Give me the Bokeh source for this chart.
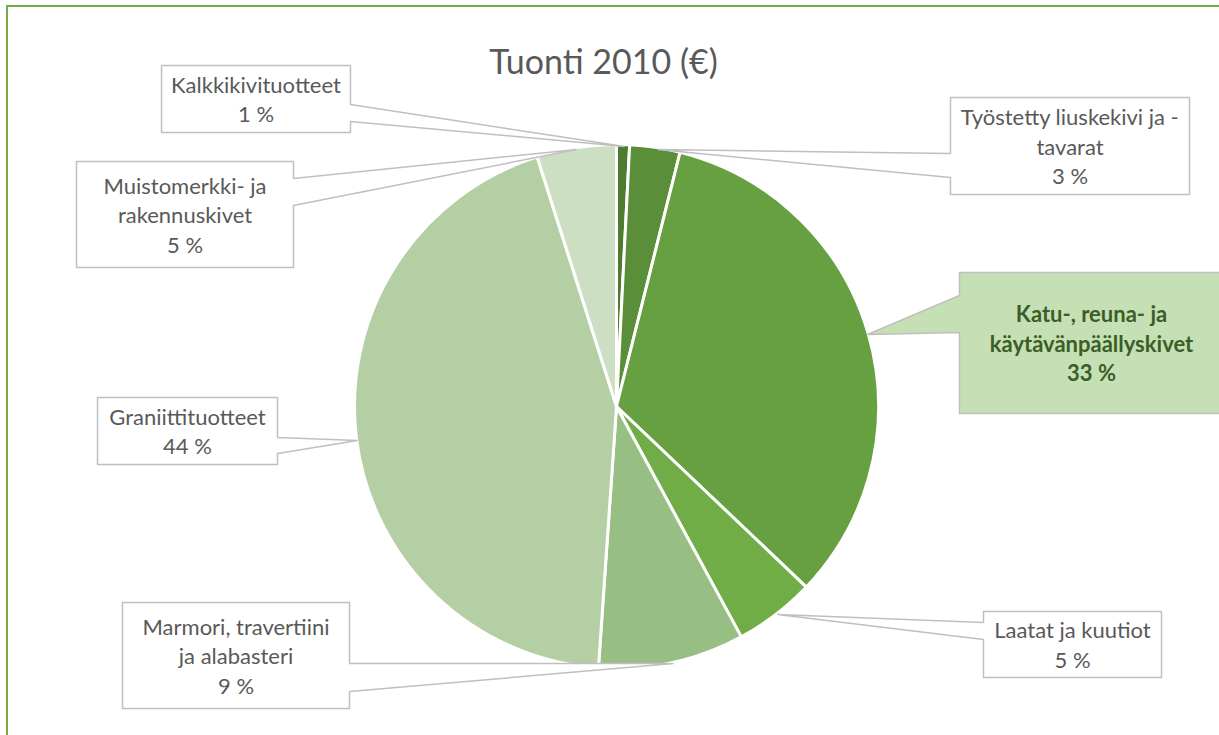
import math
from bokeh.plotting import figure
from bokeh.models import Range1d, ColumnDataSource
from bokeh.embed import file_html
from bokeh.resources import INLINE
from bokeh.core.properties import value

# ---------------- data ----------------
title = "Tuonti 2010 (€)"
categories = [
    "Kalkkikivituotteet",
    "Työstetty liuskekivi ja -tavarat",
    "Katu-, reuna- ja käytävänpäällyskivet",
    "Laatat ja kuutiot",
    "Marmori, travertiini ja alabasteri",
    "Graniittituotteet",
    "Muistomerkki- ja rakennuskivet",
]
label_lines = [
    ["Kalkkikivituotteet"],
    ["Työstetty liuskekivi ja -", "tavarat"],
    ["Katu-, reuna- ja", "käytävänpäällyskivet"],
    ["Laatat ja kuutiot"],
    ["Marmori, travertiini", "ja alabasteri"],
    ["Graniittituotteet"],
    ["Muistomerkki- ja", "rakennuskivet"],
]
shares = [0.8, 3.1, 33.2, 5.0, 9.0, 44.0, 4.9]
colors = ["#4f7b30", "#5a8e38", "#67a040", "#70ad47", "#98bf83", "#b5cfa5", "#cddfc3"]

# ---------------- layout (screen pixels) ----------------
W, H = 1219, 735
PAGE_H = 735
CX, CY, R = 616, 406, 262

# box: (left, top, right, bottom), side of pointer, base y1, base y2, tip
callouts = [
    dict(box=(161, 65, 350, 132), side="right", b=(104, 121), tip=(624, 146)),
    dict(box=(950, 97, 1189, 194), side="left", b=(153, 177), tip=(657, 149)),
    dict(box=(959, 272, 1223, 413), side="left", b=(295, 332), tip=(867, 334)),
    dict(box=(983, 611, 1161, 677), side="left", b=(622, 639), tip=(777, 614)),
    dict(box=(122, 602, 349, 708), side="right", b=(663, 691), tip=(673, 663)),
    dict(box=(97, 397, 277, 464), side="right", b=(437, 453), tip=(357, 440)),
    dict(box=(76, 161, 293, 267), side="right", b=(178, 205), tip=(576, 149)),
]
box_fill = ["white", "white", "#c5e0b4", "white", "white", "white", "white"]
text_color = ["#595959", "#595959", "#3b5e27", "#595959", "#595959", "#595959", "#595959"]
text_style = ["normal", "normal", "bold", "normal", "normal", "normal", "normal"]


def Y(y):
    return PAGE_H - y


p = figure(width=W, height=H, output_backend="svg", toolbar_location=None,
           x_range=Range1d(0, W), y_range=Range1d(PAGE_H - H, PAGE_H),
           min_border=0, outline_line_color=None)
p.axis.visible = False
p.grid.visible = False
p.background_fill_color = "white"
p.border_fill_color = "white"

# ---------------- pie ----------------
total = sum(shares)
starts, ends = [], []
cum = 0.0
for s in shares:
    starts.append(math.pi / 2 - 2 * math.pi * cum / total)
    cum += s
    ends.append(math.pi / 2 - 2 * math.pi * cum / total)

pie_src = ColumnDataSource(dict(start=starts, end=ends, color=colors, name=categories))
p.wedge(x=CX, y=Y(CY), radius=R, start_angle="start", end_angle="end",
        direction="clock", fill_color="color", line_color="white", line_width=3,
        source=pie_src)

# ---------------- callouts ----------------
xs, ys = [], []
for c in callouts:
    l, t, r, b = c["box"]
    b1, b2 = c["b"]
    tx, ty = c["tip"]
    if c["side"] == "right":
        pts = [(l, t), (r, t), (r, b1), (tx, ty), (r, b2), (r, b), (l, b)]
    else:
        pts = [(l, t), (r, t), (r, b), (l, b), (l, b2), (tx, ty), (l, b1)]
    xs.append([pt[0] for pt in pts])
    ys.append([Y(pt[1]) for pt in pts])
p.patches(xs, ys, fill_color=box_fill, line_color="#bfbfbf", line_width=1.5)

# ---------------- label texts ----------------
GAP = 29.5
tx_, ty_, tt_, tc_, ts_ = [], [], [], [], []
for i, c in enumerate(callouts):
    l, t, r, b = c["box"]
    lines = label_lines[i] + [f"{round(shares[i] / total * 100)} %"]
    n = len(lines)
    cxb = (l + r) / 2
    cyb = (t + b) / 2
    for k, ln in enumerate(lines):
        tx_.append(cxb)
        ty_.append(Y(cyb + (k - (n - 1) / 2) * GAP))
        tt_.append(ln)
        tc_.append(text_color[i])
        ts_.append(text_style[i])
lab_src = ColumnDataSource(dict(x=tx_, y=ty_, text=tt_, color=tc_, style=ts_))
p.text(x="x", y="y", text="text", text_color="color", text_font_style="style",
       text_font=value("Lato"), text_font_size="22px", text_align="center",
       text_baseline="middle", source=lab_src)

# ---------------- title ----------------
p.text(x=[603], y=[Y(60)], text=[title], text_font=value("Lato"), text_font_size="34px",
       text_color="#595959", text_align="center", text_baseline="middle")

# ---------------- frame ----------------
p.line(x=[6.5, 6.5], y=[Y(5), Y(735)], line_color="#70ad47", line_width=2)
p.line(x=[6, 1219], y=[Y(5.5), Y(5.5)], line_color="#70ad47", line_width=2)

open("out.html", "w").write(file_html(p, INLINE))
